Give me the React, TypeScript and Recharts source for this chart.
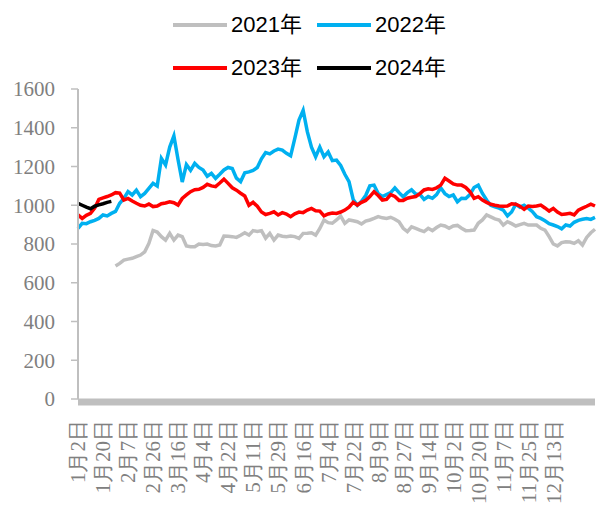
import React from 'react';
import { LineChart, Line, XAxis, YAxis, Legend } from 'recharts';

const DATES = [
  '1月2日','1月5日','1月8日','1月11日','1月14日','1月17日',
  '1月20日','1月23日','1月26日','1月29日','2月1日','2月4日',
  '2月7日','2月10日','2月13日','2月16日','2月19日','2月22日',
  '2月26日','3月1日','3月4日','3月7日','3月10日','3月13日',
  '3月16日','3月19日','3月22日','3月25日','3月28日','3月31日',
  '4月4日','4月7日','4月10日','4月13日','4月16日','4月19日',
  '4月22日','4月25日','4月28日','5月1日','5月4日','5月7日',
  '5月11日','5月14日','5月17日','5月20日','5月23日','5月26日',
  '5月29日','6月1日','6月4日','6月7日','6月10日','6月13日',
  '6月16日','6月19日','6月22日','6月25日','6月28日','7月1日',
  '7月4日','7月7日','7月10日','7月13日','7月16日','7月19日',
  '7月22日','7月25日','7月28日','7月31日','8月3日','8月6日',
  '8月9日','8月12日','8月15日','8月18日','8月21日','8月24日',
  '8月27日','8月30日','9月2日','9月5日','9月8日','9月11日',
  '9月14日','9月17日','9月20日','9月23日','9月26日','9月29日',
  '10月2日','10月5日','10月8日','10月11日','10月14日','10月17日',
  '10月20日','10月23日','10月26日','10月29日','11月1日','11月4日',
  '11月7日','11月10日','11月13日','11月16日','11月19日','11月22日',
  '11月25日','11月28日','12月1日','12月4日','12月7日','12月10日',
  '12月13日','12月15日','12月17日','12月19日','12月21日','12月23日',
  '12月25日','12月27日','12月29日','12月30日','12月31日',
];

const TICK_LABELS = [
  '1月2日','1月20日','2月7日','2月26日','3月16日','4月4日','4月22日',
  '5月11日','5月29日','6月16日','7月4日','7月22日','8月9日','8月27日',
  '9月14日','10月2日','10月20日','11月7日','11月25日','12月13日',
];

const Y_TICKS = [0, 200, 400, 600, 800, 1000, 1200, 1400, 1600];

const SERIES_NAMES = ['2021年', '2022年', '2023年', '2024年'];
const SERIES_COLORS = ['#BFBFBF', '#00B0F0', '#FF0000', '#000000'];

const V2021: (number | null)[] = [
  null, null, null, null, null, null, null, null, null,
  686, 700, 717, 722, 726, 735, 743, 760, 803, 870, 862,
  838, 820, 855, 820, 846, 838, 790, 786, 786, 800,
  798, 800, 792, 790, 795, 841, 840, 838, 834, 845,
  858, 846, 869, 865, 869, 830, 855, 820, 846, 840,
  838, 841, 838, 829, 855, 856, 858, 846, 880, 924,
  910, 907, 924, 944, 907, 924, 920, 915, 903, 918,
  924, 932, 941, 935, 932, 938, 928, 915, 881, 864,
  889, 881, 872, 864, 881, 869, 885, 898, 893, 881,
  893, 896, 881, 869, 870, 872, 907, 924, 950, 940,
  930, 924, 898, 915, 905, 893, 900, 907, 898, 898,
  898, 881, 872, 838, 800, 790, 807, 812, 810, 803,
  817, 795, 834, 858, 876,
];

const V2022 = [
  881, 907, 905, 915, 922, 932, 950, 945, 958, 968,
  1010, 1035, 1070, 1053, 1078, 1044, 1061, 1087, 1113, 1099,
  1242, 1208, 1300, 1358, 1235, 1120, 1210, 1180, 1216, 1195,
  1182, 1150, 1165, 1139, 1160, 1182, 1195, 1190, 1140, 1122,
  1168, 1172, 1180, 1195, 1240, 1272, 1265, 1280, 1290, 1285,
  1268, 1255, 1345, 1440, 1490, 1380, 1300, 1250, 1300, 1250,
  1275, 1230, 1233, 1205, 1160, 1122, 1030, 1000, 1020, 1050,
  1100, 1104, 1060, 1045, 1055, 1065, 1090, 1065, 1044, 1065,
  1080, 1058, 1056, 1030, 1045, 1036, 1055, 1090, 1060, 1045,
  1053, 1018, 1036, 1035, 1055, 1092, 1104, 1061, 1027, 1000,
  992, 985, 975, 945, 965, 1005, 990, 1000, 985, 967,
  941, 932, 920, 905, 898, 890, 878, 898, 893, 912,
  922, 928, 932, 927, 937,
];

const V2023 = [
  950, 932, 948, 958, 985, 1030, 1038, 1045, 1053, 1065,
  1063, 1027, 1035, 1022, 1010, 1000, 996, 1006, 993, 996,
  1008, 1012, 1018, 1013, 1001, 1035, 1053, 1070, 1080, 1082,
  1092, 1108, 1100, 1096, 1115, 1135, 1113, 1090, 1078, 1062,
  1048, 1000, 1015, 995, 965, 952, 958, 966, 950, 962,
  955, 941, 956, 965, 962, 975, 984, 972, 970, 945,
  955, 960, 958, 965, 975, 990, 1015, 1001, 1015, 1025,
  1045, 1070, 1050, 1027, 1030, 1055, 1045, 1025, 1025, 1036,
  1041, 1045, 1060, 1079, 1085, 1082, 1090, 1104, 1139, 1125,
  1110, 1104, 1104, 1092, 1070, 1036, 1044, 1027, 1015, 1005,
  1000, 996, 995, 996, 1008, 1005, 995, 979, 996, 994,
  996, 1001, 986, 970, 984, 965, 952, 955, 958, 950,
  975, 985, 995, 1006, 996,
];

const V2024 = [1010, 1000, 990, 982, 995, 1002, 1008, 1015, 1020];

const KEYS = ['y2021', 'y2022', 'y2023', 'y2024'];
const SOURCES = [V2021, V2022, V2023, V2024];

const data = DATES.map((d, i) => {
  const row: Record<string, string | number | null> = { date: d };
  KEYS.forEach((k, s) => {
    const v = SOURCES[s][i];
    row[k] = v === undefined ? null : v;
  });
  return row;
});

const XTick = (props: any) => {
  const { x, payload } = props;
  if (!TICK_LABELS.includes(payload.value)) return null;
  return (
    <g transform={`translate(${x},420) rotate(-90)`}>
      <text
        x={0}
        y={0}
        dy="0.35em"
        textAnchor="end"
        fill="#808080"
        fontFamily="Liberation Serif"
        fontSize={21}
      >
        {payload.value}
      </text>
    </g>
  );
};

const YTick = (props: any) => {
  const { x, y, payload } = props;
  return (
    <text
      x={x}
      y={y}
      dy="0.35em"
      textAnchor="end"
      fill="#7F7F7F"
      fontFamily="Liberation Serif"
      fontSize={21}
    >
      {payload.value}
    </text>
  );
};

const renderLegend = (props: any) => {
  const items = props.payload || [];
  return (
    <div style={{ position: 'relative', width: 598, height: 89 }}>
      {items.map((it: any, idx: number) => {
        const row = Math.floor(idx / 2);
        const col = idx % 2;
        const left = 173 + col * 144;
        const cy = 25 + row * 43;
        return (
          <div key={idx}>
            <div
              style={{
                position: 'absolute',
                left,
                top: cy - 2,
                width: 54,
                height: 4,
                background: it.color,
              }}
            />
            <div
              style={{
                position: 'absolute',
                left: left + 58,
                top: cy - 14,
                height: 28,
                lineHeight: '28px',
                fontSize: 22,
                color: '#000',
                whiteSpace: 'nowrap',
                fontFamily: "'Liberation Sans', 'Noto Sans CJK SC', sans-serif",
              }}
            >
              {it.value}
            </div>
          </div>
        );
      })}
    </div>
  );
};

export default function App() {
  return (
    <div style={{ position: 'absolute', left: 0, top: 0, width: 598, height: 510, background: '#fff' }}>
      <LineChart
        width={598}
        height={510}
        data={data}
        margin={{ top: 0, right: 3, bottom: 0, left: 0 }}
      >
        <Legend
          verticalAlign="top"
          align="center"
          content={renderLegend}
          wrapperStyle={{ left: 0, top: 0, width: 598, height: 89 }}
        />
        <XAxis
          dataKey="date"
          interval={0}
          height={111}
          tickLine={false}
          axisLine={{ stroke: '#BFBFBF', strokeWidth: 7, transform: 'translate(0,3)' }}
          tick={<XTick />}
        />
        <YAxis
          width={78}
          domain={[0, 1600]}
          ticks={Y_TICKS}
          interval={0}
          tickSize={7}
          tickMargin={16}
          axisLine={{ stroke: '#BFBFBF', strokeWidth: 2 }}
          tickLine={{ stroke: '#BFBFBF', strokeWidth: 1.5 }}
          tick={<YTick />}
        />
        {KEYS.map((k, s) => (
          <Line
            key={k}
            dataKey={k}
            name={SERIES_NAMES[s]}
            stroke={SERIES_COLORS[s]}
            strokeWidth={3.5}
            dot={false}
            activeDot={false}
            connectNulls={false}
            isAnimationActive={false}
            type="linear"
          />
        ))}
      </LineChart>
    </div>
  );
}
